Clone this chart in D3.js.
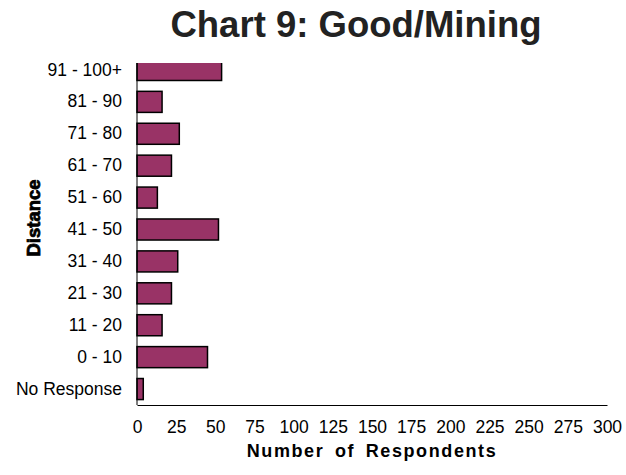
<!DOCTYPE html>
<html>
<head>
<meta charset="utf-8">
<script src="https://cdn.jsdelivr.net/npm/d3@7"></script>
<style>
  body { margin: 0; background: #fff; }
  text { font-family: "Liberation Sans", Arial, sans-serif; fill: #000; }
</style>
</head>
<body>
<svg id="chart" width="626" height="475"></svg>
<script>
'use strict';

// categories, top to bottom
var categories = ['91 - 100+', '81 - 90', '71 - 80', '61 - 70', '51 - 60', '41 - 50',
                  '31 - 40', '21 - 30', '11 - 20', '0 - 10', 'No Response'];
// respondents per category
var respondents = [54, 16, 27, 22, 13, 52, 26, 22, 16, 45, 4];
var xTicks = [0, 25, 50, 75, 100, 125, 150, 175, 200, 225, 250, 275, 300];

var svg = d3.select('#chart');

var plotLeft = 137, plotRight = 607, plotTop = 54, plotBottom = 405, frameTop = 63;

var x = d3.scaleLinear().domain([0, 300]).range([plotLeft, plotRight]);
var y = d3.scaleBand().domain(categories).range([plotTop, plotBottom]).paddingInner(0.34).paddingOuter(0.17);

// plot area clip (top bar is cut at the frame)
svg.append('clipPath').attr('id', 'plotClip')
  .append('rect').attr('x', plotLeft - 2).attr('y', frameTop)
  .attr('width', plotRight - plotLeft + 4).attr('height', plotBottom - frameTop);

//bars
svg.append('g').attr('clip-path', 'url(#plotClip)')
  .selectAll('.bar')
  .data(respondents)
  .enter().append('rect')
    .attr('class', 'bar')
    .attr('x', x(0))
    .attr('y', function (d, i) { return y(categories[i]); })
    .attr('width', function (d) { return x(d) - x(0); })
    .attr('height', y.bandwidth())
    .attr('fill', '#993366')
    .attr('stroke', '#000')
    .attr('stroke-width', 1.5);

//axes
var xAxis = svg.append('g')
  .attr('transform', 'translate(0,' + plotBottom + ')')
  .call(d3.axisBottom(x).tickValues(xTicks).tickSize(0).tickPadding(16));
xAxis.select('.domain').attr('stroke', '#000').attr('stroke-width', 1);
xAxis.selectAll('text').style('font-size', '17.5px');

var yAxis = svg.append('g')
  .attr('transform', 'translate(' + plotLeft + ',0)')
  .call(d3.axisLeft(y).tickSize(0).tickPadding(15));
yAxis.select('.domain').attr('d', 'M0,' + frameTop + 'V' + plotBottom).attr('stroke', '#000').attr('stroke-width', 1);
yAxis.selectAll('text').style('font-size', '17.5px');

//titles
svg.append('text')
  .attr('x', 356).attr('y', 37)
  .attr('text-anchor', 'middle')
  .style('font-size', '36.5px').style('font-weight', 'bold')
  .style('fill', '#222')
  .text('Chart 9: Good/Mining');

svg.append('text')
  .attr('x', 372).attr('y', 457)
  .attr('text-anchor', 'middle')
  .style('font-size', '18px').style('font-weight', 'bold')
  .style('letter-spacing', '1.6px')
  .style('word-spacing', '4px')
  .text('Number of Respondents');

svg.append('text')
  .attr('transform', 'translate(40,218) rotate(-90)')
  .attr('text-anchor', 'middle')
  .style('font-size', '18.5px').style('font-weight', 'bold')
  .style('stroke', '#000').style('stroke-width', 0.8)
  .text('Distance');
</script>
</body>
</html>
